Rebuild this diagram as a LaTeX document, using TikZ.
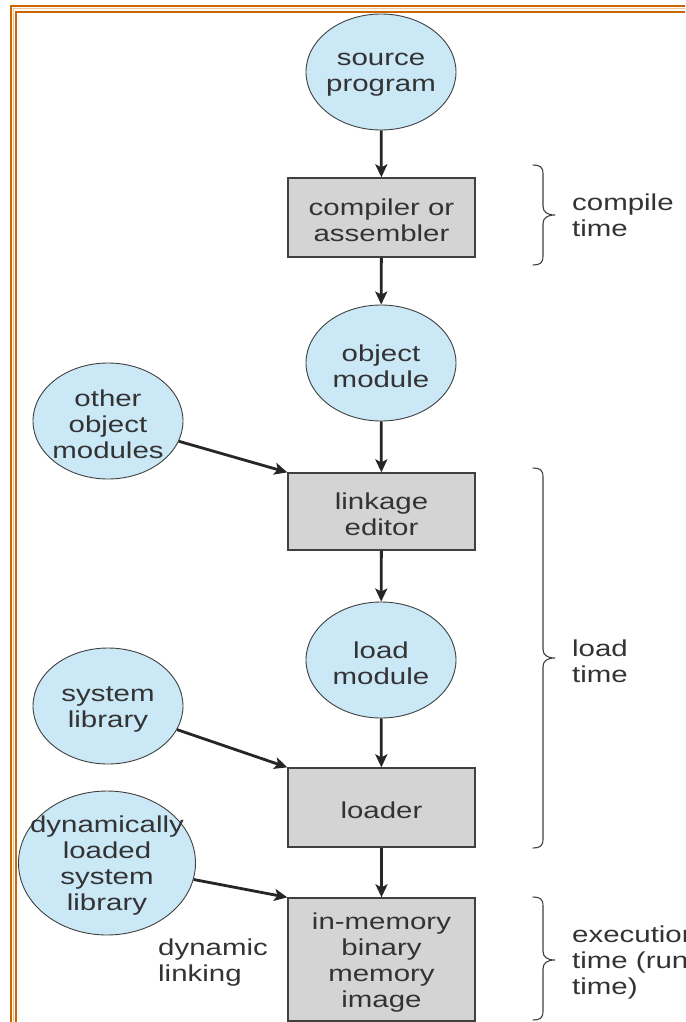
\documentclass[tikz,border=0pt]{standalone}
\usepackage{fontspec}
\setmainfont{Liberation Sans}[FakeStretch=1.28]
\usetikzlibrary{shapes.geometric,arrows.meta}
\definecolor{blobfill}{HTML}{CBE8F7}
\definecolor{boxfill}{HTML}{D4D4D4}
\definecolor{edgecol}{HTML}{404040}
\definecolor{txtcol}{HTML}{333333}
\definecolor{framecol}{HTML}{CC6600}
\definecolor{framelight}{HTML}{F2C48E}
\begin{document}
\begin{tikzpicture}[x=1pt,y=-1pt,
  every node/.style={font=\fontsize{23}{26}\selectfont, text=txtcol, inner sep=0pt},
  blob/.style={ellipse, draw=edgecol, line width=0.9pt, fill=blobfill, minimum width=150pt, minimum height=116pt},
  blobtext/.style={align=center, yshift=-3pt},
  stage/.style={rectangle, draw=edgecol, line width=1.3pt, fill=boxfill, minimum width=187pt, minimum height=79pt},
  arr/.style={line width=2.8pt, draw=black!85, -{Stealth[length=13pt,width=12pt,inset=3pt]}},
  bracepath/.style={line width=1.1pt, draw=edgecol, line cap=round},
  note/.style={align=left, anchor=west, yshift=-2.5pt},
  framepath/.style={line width=2.3pt, draw=framecol}]
\useasboundingbox (0,0) rectangle (685,1022);
\fill[white] (0,0) rectangle (685,1022);
% frame
\draw[framelight, line width=1pt] (13.3,1022) -- (13.3,9) -- (685,9);
\draw[framepath] (11,1022) -- (11,6) -- (685,6);
\draw[framepath] (15.8,1022) -- (15.8,12) -- (685,12);

% main column
\node[blob] (src) at (381,72) {};
\node[blobtext] (srct) at (src) {source\\program};
\node[stage] (comp) at (381.5,217.5) {};
\node[blobtext] (compt) at (comp) {compiler or\\assembler};
\node[blob] (obj) at (381,363) {};
\node[blobtext] (objt) at (obj) {object\\module};
\node[stage, minimum height=77pt] (link) at (381.5,511.5) {};
\node[blobtext] (linkt) at (link) {linkage\\editor};
\node[blob] (loadm) at (381,660) {};
\node[blobtext] (loadmt) at (loadm) {load\\module};
\node[stage] (loader) at (381.5,807.5) {};
\node[blobtext] (loadert) at (loader) {loader};
\node[stage, minimum height=123pt] (image) at (381.5,959.5) {};
\node[blobtext] (imaget) at (image) {in-memory\\binary\\memory\\image};

% side inputs
\node[blob] (other) at (108,421) {};
\node[blobtext] (othert) at (other) {other\\object\\modules};
\node[blob] (syslib) at (108,706) {};
\node[blobtext] (syslibt) at (syslib) {system\\library};
\node[blob, minimum width=177pt, minimum height=144pt] (dyn) at (107,863) {};
\node[blobtext] (dynt) at (dyn) {dynamically\\loaded\\system\\library};
\node[note] (dynlink) at (158,960) {dynamic\\linking};

% arrows
\draw[arr] (src) -- (comp);
\draw[arr] (comp) -- (obj);
\draw[arr] (obj) -- (link);
\draw[arr] (link) -- (loadm);
\draw[arr] (loadm) -- (loader);
\draw[arr] (loader) -- (image);
\draw[arr] (other) -- (link.north west);
\draw[arr] (syslib) -- (loader.north west);
\draw[arr] (dyn) -- (image.north west);

% braces
\draw[bracepath] (533,165) .. controls (540,165) and (543,167) .. (543,174) -- (543,206)
  .. controls (543,212) and (547,215) .. (555,215)
  .. controls (547,215) and (543,218) .. (543,224) -- (543,256)
  .. controls (543,263) and (540,265) .. (533,265);
\node[note] (ct) at (572,213) {compile\\time};

\draw[bracepath] (533,468) .. controls (540,468) and (543,470) .. (543,477) -- (543,649)
  .. controls (543,655) and (547,658) .. (555,658)
  .. controls (547,658) and (543,661) .. (543,667) -- (543,839)
  .. controls (543,846) and (540,848) .. (533,848);
\node[note] (lt) at (572,659) {load\\time};

\draw[bracepath] (533,897) .. controls (540,897) and (543,899) .. (543,906) -- (543,951)
  .. controls (543,957) and (547,960) .. (555,960)
  .. controls (547,960) and (543,963) .. (543,969) -- (543,1011)
  .. controls (543,1018) and (540,1020) .. (533,1020);
\node[note] (et) at (572,960) {execution\\time (run\\time)};
\end{tikzpicture}
\end{document}
